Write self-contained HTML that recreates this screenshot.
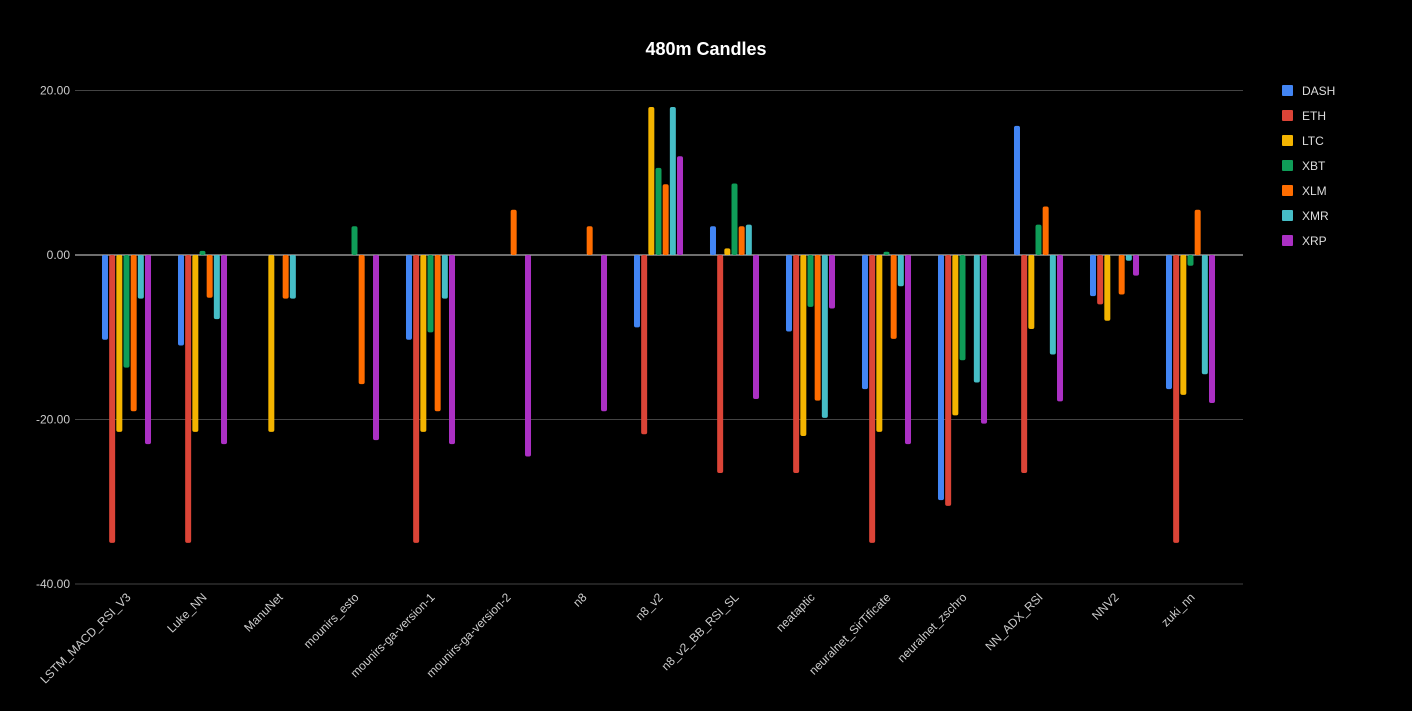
<!DOCTYPE html>
<html><head><meta charset="utf-8"><style>
html,body{margin:0;padding:0;background:#000;}
svg{display:block;font-family:"Liberation Sans",Roboto,sans-serif;}
</style></head><body>
<svg id="chart" width="1412" height="711" viewBox="0 0 1412 711">
<rect width="1412" height="711" fill="#000"/>
<text x="706" y="55" text-anchor="middle" fill="#fff" font-size="18" font-weight="bold">480m Candles</text>
<g id="grid"></g><g id="bars"></g><g id="xlabels"></g><g id="legend"></g>
</svg>
<script>
const categories=["LSTM_MACD_RSI_V3","Luke_NN","ManuNet","mounirs_esto","mounirs-ga-version-1","mounirs-ga-version-2","n8","n8_v2","n8_v2_BB_RSI_SL","neataptic","neuralnet_SirTificate","neuralnet_zschro","NN_ADX_RSI","NNV2","zuki_nn"];
const seriesNames=["DASH","ETH","LTC","XBT","XLM","XMR","XRP"];
const colors=["#4285f4","#db4437","#f4b400","#0f9d58","#ff6d00","#46bdc6","#ab30c4"];
const DASH=[-10.3,-11,0,0,-10.3,0,0,-8.8,3.5,-9.3,-16.3,-29.8,15.7,-5,-16.3];
const ETH=[-35,-35,0,0,-35,0,0,-21.8,-26.5,-26.5,-35,-30.5,-26.5,-6,-35];
const LTC=[-21.5,-21.5,-21.5,0,-21.5,0,0,18,0.8,-22,-21.5,-19.5,-9,-8,-17];
const XBT=[-13.7,0.5,0,3.5,-9.4,0,0,10.6,8.7,-6.3,0.4,-12.8,3.7,0,-1.3];
const XLM=[-19,-5.2,-5.3,-15.7,-19,5.5,3.5,8.6,3.5,-17.7,-10.2,0,5.9,-4.8,5.5];
const XMR=[-5.3,-7.8,-5.3,0,-5.3,0,0,18,3.7,-19.8,-3.8,-15.5,-12.1,-0.7,-14.5];
const XRP=[-23,-23,0,-22.5,-23,-24.5,-19,12,-17.5,-6.5,-23,-20.5,-17.8,-2.5,-18];
const series=[DASH,ETH,LTC,XBT,XLM,XMR,XRP];
const yTicks=[20,0,-20,-40];
const tickLabels=["20.00","0.00","-20.00","-40.00"];
const NS="http://www.w3.org/2000/svg";
const y=v=>255-v*8.225;
const xc=i=>126.5+i*76;
const mk=(t,a,p)=>{const e=document.createElementNS(NS,t);for(const k in a)e.setAttribute(k,a[k]);p.appendChild(e);return e;};
const grid=document.getElementById('grid');
yTicks.forEach((t,i)=>{
 const l=mk('line',{x1:75,x2:1243,y1:y(t),y2:y(t),stroke:t===0?'#ddd':'#444','stroke-width':1},grid);
 
 
 const tx=mk('text',{x:70,y:y(t)+4,'text-anchor':'end',fill:'#ccc','font-size':12},grid);
 tx.textContent=tickLabels[i];
 
 
});
const bars=document.getElementById('bars');
categories.forEach((c,i)=>{
 series.forEach((s,j)=>{
  const v=s[i]; if(v===0)return;
  const x=xc(i)+(j-3)*7.17;
  const top=Math.min(y(v),y(0)), h=Math.abs(y(v)-y(0));
  const r=mk('rect',{x:x-3,y:top,width:6,height:Math.max(h,1),rx:2,fill:colors[j]},bars);
  
  
 });
 const g=mk('text',{x:0,y:0,'text-anchor':'end',fill:'#ccc','font-size':12,transform:`translate(${xc(i)+5},${598}) rotate(-45)`},document.getElementById('xlabels'));
 g.textContent=c;
 
 
});
const lg=document.getElementById('legend');
seriesNames.forEach((n,j)=>{
 const gg=mk('g',{},lg);
 
 
 mk('rect',{x:1282,y:85+j*25,width:11,height:11,rx:1,fill:colors[j]},gg);
 const t=mk('text',{x:1302,y:95+j*25,fill:'#ddd','font-size':12},gg);
 t.textContent=n;
});
</script>
</body></html>
